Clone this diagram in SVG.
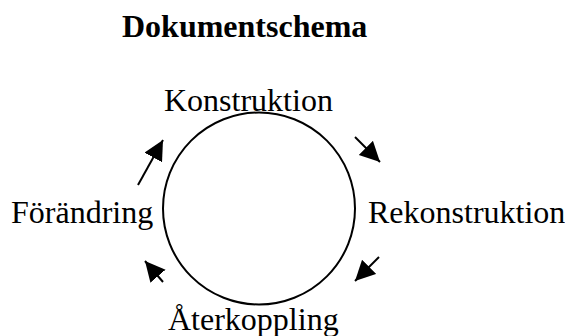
<svg xmlns="http://www.w3.org/2000/svg" width="565" height="336" viewBox="0 0 565 336">
  <style>
    text { font-family: "Liberation Serif", "Times New Roman", serif; font-size: 32px; fill: #000; }
    .title { font-weight: bold; }
    .conn { stroke: #000; stroke-width: 2; fill: none; }
  </style>
  <defs>
    <marker id="ah" markerUnits="userSpaceOnUse" markerWidth="22" markerHeight="22" refX="20" refY="10" orient="auto">
      <path d="M0,0 L20,10 L0,20 Z" fill="#000"/>
    </marker>
  </defs>
  <rect width="565" height="336" fill="#fff"/>
  <g id="title"><text class="title" x="122" y="37">Dokumentschema</text></g>
  <g id="cycle"><circle cx="259" cy="208.5" r="96" fill="none" stroke="#000" stroke-width="2"/></g>
  <g id="konstruktion"><text x="164" y="111">Konstruktion</text></g>
  <g id="rekonstruktion"><text x="368" y="223">Rekonstruktion</text></g>
  <g id="aterkoppling"><text x="168" y="330">Återkoppling</text></g>
  <g id="forandring"><text x="11" y="223">Förändring</text></g>
  <g id="connectors">
    <line class="conn" x1="138" y1="185" x2="163" y2="140" marker-end="url(#ah)"/>
    <line class="conn" x1="355" y1="137" x2="380" y2="162" marker-end="url(#ah)"/>
    <line class="conn" x1="379" y1="257" x2="355" y2="281" marker-end="url(#ah)"/>
    <line class="conn" x1="163" y1="282" x2="145" y2="261" marker-end="url(#ah)"/>
  </g>
</svg>
